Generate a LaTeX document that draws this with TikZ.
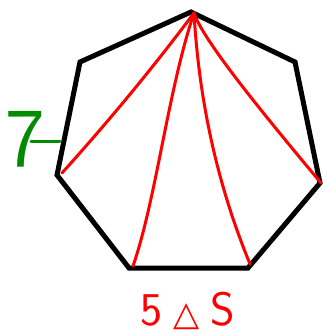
\documentclass[tikz,border=0pt]{standalone}
\usepackage{fontspec}
\newfontfamily\symfont{DejaVu Sans}
\begin{document}
\begin{tikzpicture}[x=1pt,y=-1pt,
  hept/.style={line width=5pt,line join=miter,black},
  diag/.style={line width=3pt,red,line cap=round},
  greenink/.style={line width=3pt,green!55!black,line cap=round},
  redlabel/.style={red,font=\sffamily\fontsize{47}{47}\selectfont,inner sep=0pt},
  greenlabel/.style={green!55!black,font=\sffamily\fontsize{84}{84}\selectfont,inner sep=0pt}]
\useasboundingbox (0,0) rectangle (322,336);
% vertices
\coordinate (T) at (191,12);
\coordinate (UR) at (295,62);
\coordinate (R) at (320,183);
\coordinate (BR) at (248,268);
\coordinate (BL) at (129,268);
\coordinate (L) at (57,175);
\coordinate (UL) at (80,62);
\draw[hept] (T) -- (UR) -- (R) -- (BR) -- (BL) -- (L) -- (UL) -- cycle;
% diagonal end points
\coordinate (d0) at (194,13);
\coordinate (d1) at (62,173);
\coordinate (d2) at (133,266);
\coordinate (d3) at (250,264);
\coordinate (d4) at (321,183);
\draw[diag] (d0) .. controls (152,69) and (108,122) .. (d1);
\draw[diag] (d0) .. controls (168,90) and (156,200) .. (d2);
\draw[diag] (d0) .. controls (199,100) and (217,184) .. (d3);
\draw[diag] (d0) .. controls (203,40) and (260,110) .. (d4);
% labels
\node[greenlabel,anchor=base west] (seven) at (5,167) {7};
\coordinate (c7) at (31,142);
\coordinate (e7) at (60,142);
\draw[greenink] (c7) -- (e7);
\node[redlabel,anchor=base west] (count) at (140,325) {5\hspace{11pt}{\symfont\fontsize{34}{34}\selectfont △}\hspace{11pt}S};
\end{tikzpicture}
\end{document}
